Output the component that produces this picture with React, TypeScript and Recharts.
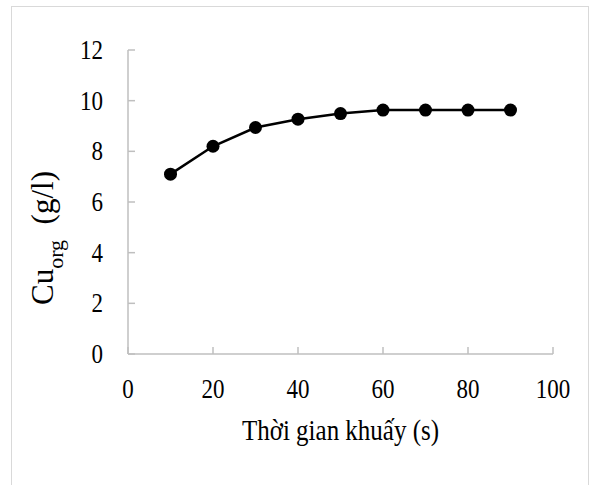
import { Line, LineChart, XAxis, YAxis } from "recharts";

// thời gian khuấy (s) và nồng độ Cu trong pha hữu cơ (g/l)
const times = [10, 20, 30, 40, 50, 60, 70, 80, 90];
const cuOrg = [7.1, 8.2, 8.94, 9.27, 9.49, 9.63, 9.63, 9.63, 9.63];
const xTicks = [0, 20, 40, 60, 80, 100];
const yTicks = [0, 2, 4, 6, 8, 10, 12];

const data = times.map((t, i) => ({ t, cu: cuOrg[i] }));

const FONT = "'Liberation Serif', 'Times New Roman', serif";
const AXIS = "#bfbfbf";
const STRETCH = 1.17; // chữ trong ảnh gốc hơi cao

function XTick({ x, y, payload }: any) {
  return (
    <text
      transform={`translate(${x} ${y + 44}) scale(1 ${STRETCH})`}
      textAnchor="middle"
      fontFamily={FONT}
      fontSize={23}
      fill="#000"
    >
      {payload.value}
    </text>
  );
}

function YTick({ x, y, payload }: any) {
  return (
    <text
      transform={`translate(${x} ${y}) scale(1 ${STRETCH})`}
      dy={7.8}
      textAnchor="end"
      fontFamily={FONT}
      fontSize={23}
      fill="#000"
    >
      {payload.value}
    </text>
  );
}

function XTitle({ viewBox }: any) {
  const { x, y, width } = viewBox;
  return (
    <text
      transform={`translate(${x + width / 2} ${y + 86}) scale(1 ${STRETCH})`}
      textAnchor="middle"
      fontFamily={FONT}
      fontSize={25}
      fill="#000"
    >
      Thời gian khuấy (s)
    </text>
  );
}

function YTitle({ viewBox }: any) {
  const { x, y, height } = viewBox;
  const bx = x - 35;
  const cy = y + height / 2 + 36;
  return (
    <text
      transform={`translate(${bx} ${cy}) rotate(-90)`}
      textAnchor="middle"
      fontFamily={FONT}
      fontSize={31}
      fill="#000"
      style={{ whiteSpace: "pre" }}
    >
      Cu
      <tspan fontSize={22} dy={10}>org</tspan>
      <tspan dy={-10}>{"  (g/l)"}</tspan>
    </text>
  );
}

export default function App() {
  return (
    <div style={{ position: "absolute", left: 0, top: 0, width: 592, height: 485, background: "#fff", overflow: "hidden", fontFamily: FONT }}>
      <div
        style={{
          position: "absolute",
          left: 11,
          top: 6,
          width: 576,
          height: 500,
          border: "1px solid #d9d9d9",
        }}
      />
      <LineChart width={592} height={485} data={data} margin={{ top: 50, right: 39, bottom: 101, left: 88 }}>
        <XAxis
          dataKey="t"
          type="number"
          domain={[0, 100]}
          ticks={xTicks}
          interval={0}
          height={30}
          tickSize={-7}
          tickMargin={7}
          axisLine={{ stroke: AXIS, strokeWidth: 1.5 }}
          tickLine={{ stroke: AXIS, strokeWidth: 1.5 }}
          tick={<XTick />}
          label={{ content: XTitle }}
        />
        <YAxis
          type="number"
          domain={[0, 12]}
          ticks={yTicks}
          interval={0}
          width={40}
          tickSize={-7}
          tickMargin={32}
          axisLine={{ stroke: AXIS, strokeWidth: 1.5 }}
          tickLine={{ stroke: AXIS, strokeWidth: 1.5 }}
          tick={<YTick />}
          label={{ content: YTitle }}
        />
        <Line
          type="linear"
          dataKey="cu"
          stroke="#000"
          strokeWidth={2.5}
          dot={{ r: 6.5, fill: "#000", stroke: "#000", strokeWidth: 0 }}
          isAnimationActive={false}
        />
      </LineChart>
    </div>
  );
}
